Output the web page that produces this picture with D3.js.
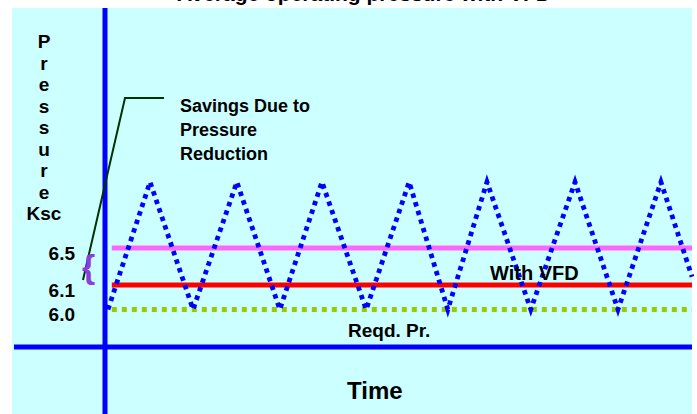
<!DOCTYPE html>
<html><head><meta charset="utf-8">
<script src="https://cdn.jsdelivr.net/npm/d3@7"></script>
<style>body{margin:0;background:#fff;}svg{display:block;}text{font-family:"Liberation Sans",Arial,sans-serif;font-weight:bold;}</style>
</head><body>
<div id="chart"></div>
<script>
// ---- data ----
const titleText = "Average operating pressure with VFD";
const yLabelLetters = ["P","r","e","s","s","u","r","e","Ksc"];
const tickValues = [6.5, 6.1, 6.0];
const tickLabels = ["6.5", "6.1", "6.0"];
// compressor pressure cycling (time units, pressure)
const cycleTime = [0.07, 1.06, 2.07, 3.10, 4.11, 5.10, 6.14, 7.15, 8.06, 8.98, 10.01, 11.05, 12.06, 13.07, 13.8];
const cyclePressure = [6.0, 7.2, 6.0, 7.2, 6.0, 7.2, 6.0, 7.2, 6.0, 7.2, 6.0, 7.2, 6.0, 7.2, 6.19];
const levelNames = ["Without VFD", "With VFD", "Reqd. Pr."];
const levelValues = [6.5, 6.1, 6.0];
const levelColors = ["#ff66ff", "#ff0000", "#99cc00"];
const levelStart = 0.16, levelEnd = 13.8;

const W = 697, H = 414;
const svg = d3.select("#chart").append("svg").attr("width", W).attr("height", H);

// panel
svg.append("rect").attr("x", 12).attr("y", 8).attr("width", 680).attr("height", H - 8).attr("fill", "#ccffff");

// title (mostly cut off at top, as in the source slide)
svg.append("text").attr("x", 364).attr("y", 1).attr("text-anchor", "middle")
  .attr("font-size", 21).attr("fill", "#000").text(titleText);

// scales (schematic, piecewise)
const x = d3.scaleLinear().domain([0, 13.8]).range([105, 692]);
const y = d3.scaleLinear().domain([5.8, 6.0, 6.1, 6.5, 7.2]).range([347, 309.5, 285, 248, 182]);

// level lines
const lvl = levelValues.map((v, i) => ({v, c: levelColors[i], name: levelNames[i]}));
svg.selectAll(".lvl").data(lvl).enter().append("line")
  .attr("x1", x(levelStart)).attr("x2", x(levelEnd))
  .attr("y1", d => y(d.v)).attr("y2", d => y(d.v))
  .attr("stroke", d => d.c).attr("stroke-width", 5)
  .attr("stroke-dasharray", d => d.v === 6.0 ? "5,5" : null);

// zigzag
const pts = cycleTime.map((t, i) => [t, cyclePressure[i]]);
svg.append("path").datum(pts)
  .attr("d", d3.line().x(d => x(d[0])).y(d => y(d[1])))
  .attr("fill", "none").attr("stroke", "#0000ff").attr("stroke-width", 4.8)
  .attr("stroke-dasharray", "4.5,4.5");

// axes (blue lines)
svg.append("line").attr("x1", x(0)).attr("x2", x(0)).attr("y1", 8).attr("y2", H)
  .attr("stroke", "#0000ff").attr("stroke-width", 5);
svg.append("line").attr("x1", 14).attr("x2", 692).attr("y1", y(5.8)).attr("y2", y(5.8))
  .attr("stroke", "#0000ff").attr("stroke-width", 5);

// y tick labels
const yAxis = d3.axisLeft(y).tickValues(tickValues).tickFormat((d, i) => tickLabels[i]).tickSize(0).tickPadding(0);
const ga = svg.append("g").attr("transform", "translate(75,0)").call(yAxis);
ga.select(".domain").remove();
ga.selectAll("text").attr("font-size", 19).attr("fill", "#000").attr("dy", "0.6em")
  .style("font-family", '"Liberation Sans",Arial,sans-serif').style("font-weight", "bold");

// y label (stacked letters)
svg.selectAll(".yl").data(yLabelLetters).enter().append("text")
  .attr("x", 44).attr("y", (d, i) => 48 + i * 21.5)
  .attr("text-anchor", "middle").attr("font-size", 19).attr("fill", "#000").text(d => d);

// annotations
const ann = svg.append("text").attr("x", 180).attr("font-size", 18).attr("fill", "#000");
["Savings Due to", "Pressure", "Reduction"].forEach((s, i) => {
  ann.append("tspan").attr("x", 180).attr("y", 112 + i * 24).text(s);
});
svg.append("path").attr("d", "M164,98 L125,98 L83,280").attr("fill", "none")
  .attr("stroke", "#003300").attr("stroke-width", 2);
svg.append("text").attr("x", 82).attr("y", 278).attr("font-size", 34)
  .attr("fill", "#8b3dd9").text("{");

svg.append("text").attr("x", 490).attr("y", y(6.1) - 5).attr("font-size", 20).attr("fill", "#000").text(levelNames[1]);
svg.append("text").attr("x", 348).attr("y", 337).attr("font-size", 19).attr("fill", "#000").text(levelNames[2]);
svg.append("text").attr("x", 347).attr("y", 399).attr("font-size", 24).attr("fill", "#000").text("Time");
</script>
</body></html>
